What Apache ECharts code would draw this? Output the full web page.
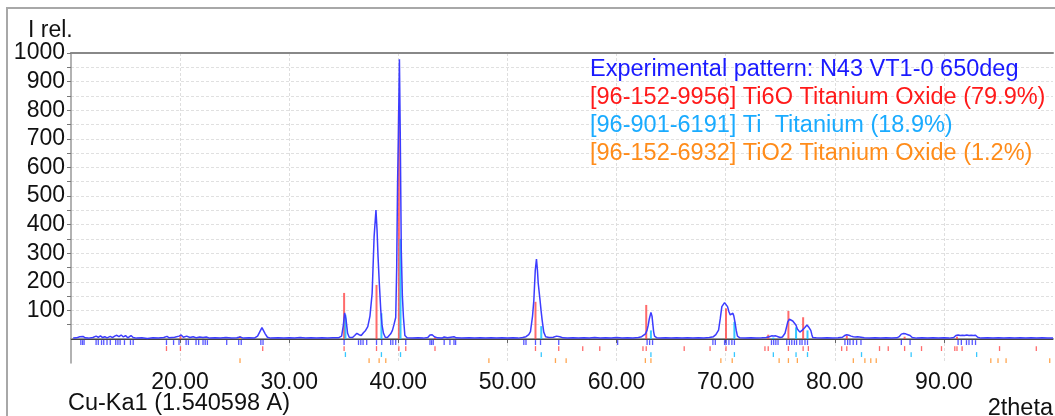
<!DOCTYPE html>
<html>
<head>
<meta charset="utf-8">
<title>XRD pattern N43 VT1-0 650deg</title>
<script src="https://cdn.jsdelivr.net/npm/echarts@6/dist/echarts.min.js"></script>
<style>
  html, body { margin: 0; padding: 0; background: #fff; }
  #chart { width: 1055px; height: 416px; }
</style>
</head>
<body>
<div id="chart"></div>
<script>
// experimental pattern [2theta, I rel.]
const expPattern = [
  [10.2,3],[10.5,4],[10.8,8],[10.95,5],[11.1,9],[11.3,4],[11.6,3],[12.0,5],[12.3,10],[12.5,6],
  [12.7,11],[12.9,5],[13.1,8],[13.3,4],[13.6,9],[13.8,5],[14.0,10],[14.2,13],[14.4,8],[14.6,14],
  [14.8,7],[15.0,12],[15.2,4],[15.5,12],[15.7,5],[16.0,3],[16.5,4],[17.0,2],[17.5,4],[18.0,3],
  [18.5,5],[18.8,9],[19.0,4],[19.5,6],[19.9,10],[20.1,14],[20.3,6],[20.6,10],[20.9,5],[21.2,8],
  [21.5,4],[21.8,7],[22.1,5],[22.4,7],[22.7,3],[23.2,4],[23.7,3],[24.2,5],[24.7,3],[25.2,4],
  [25.5,7],[25.8,3],[26.3,4],[26.8,3],[27.1,10],[27.3,25],[27.5,40],[27.65,35],[27.8,18],[28.0,6],
  [28.3,3],[29.0,4],[29.5,3],[30.0,4],[30.5,3],[31.0,5],[31.5,3],[32.0,4],[32.5,3],[33.0,4],
  [33.5,3],[34.0,4],[34.5,4],[34.8,10],[34.95,45],[35.08,91],[35.2,70],[35.35,20],[35.5,6],[35.8,5],
  [36.0,12],[36.2,20],[36.4,15],[36.6,12],[36.8,22],[37.0,30],[37.2,43],[37.4,80],[37.6,160],[37.78,358],
  [37.95,451],[38.05,380],[38.14,288],[38.25,200],[38.39,101],[38.5,50],[38.64,20],[38.8,6],[39.0,5],[39.15,10],
  [39.3,18],[39.46,30],[39.6,50],[39.76,75],[39.85,250],[39.93,545],[40.0,700],[40.1,978],[40.18,700],[40.27,311],
  [40.37,150],[40.47,75],[40.6,12],[40.8,4],[41.3,3],[41.8,4],[42.3,3],[42.7,5],[42.9,14],[43.1,15],
  [43.3,8],[43.6,4],[44.0,3],[44.2,7],[44.5,4],[44.8,6],[45.1,8],[45.3,4],[45.8,3],[46.5,4],
  [47.0,3],[47.5,4],[48.0,3],[48.5,4],[49.0,3],[49.5,4],[50.0,3],[50.5,4],[51.0,3],[51.4,5],
  [51.7,8],[51.95,15],[52.11,26],[52.3,80],[52.42,136],[52.55,240],[52.66,279],[52.75,240],[52.82,195],[52.97,142],
  [53.08,100],[53.18,66],[53.33,24],[53.5,8],[53.8,5],[54.2,6],[54.5,10],[54.8,8],[55.1,4],[55.5,3],
  [56.0,4],[56.5,3],[57.0,4],[57.5,3],[58.0,5],[58.5,3],[59.0,4],[59.5,3],[60.0,5],[60.5,3],
  [61.0,4],[61.5,3],[62.0,5],[62.3,8],[62.48,10],[62.65,18],[62.79,30],[62.9,48],[63.0,70],[63.15,93],
  [63.25,80],[63.33,50],[63.4,25],[63.48,10],[63.7,4],[64.0,3],[64.5,4],[65.0,3],[65.5,4],[66.0,3],
  [66.5,4],[67.0,3],[67.5,4],[68.0,3],[68.5,5],[68.88,8],[69.1,15],[69.35,31],[69.5,70],[69.65,113],
  [69.9,127],[70.05,124],[70.17,113],[70.3,95],[70.42,84],[70.55,88],[70.66,90],[70.75,80],[70.87,55],[70.97,30],
  [71.08,10],[71.3,4],[71.8,3],[72.3,4],[72.8,3],[73.3,4],[73.7,5],[74.0,8],[74.2,11],[74.4,10],
  [74.6,11],[74.8,8],[75.0,5],[75.2,7],[75.44,20],[75.6,45],[75.69,60],[75.84,69],[76.0,66],[76.15,63],
  [76.33,60],[76.45,48],[76.57,35],[76.8,24],[77.0,30],[77.26,40],[77.45,49],[77.6,42],[77.8,30],[77.9,15],
  [77.98,5],[78.3,4],[78.8,3],[79.3,4],[79.8,3],[80.3,4],[80.7,6],[80.9,12],[81.1,15],[81.3,13],
  [81.5,10],[81.7,8],[81.9,7],[82.1,8],[82.4,6],[82.7,4],[83.2,3],[83.7,4],[84.2,3],[84.7,4],
  [85.2,3],[85.7,4],[85.9,8],[86.1,17],[86.3,19],[86.5,18],[86.7,15],[86.9,12],[87.1,5],[87.5,3],
  [88.0,4],[88.5,3],[89.0,4],[89.5,3],[90.0,4],[90.5,3],[90.9,5],[91.1,12],[91.3,14],[91.5,12],
  [91.7,13],[91.9,12],[92.1,14],[92.3,12],[92.5,13],[92.7,12],[92.9,13],[93.1,6],[93.4,3],[94.0,4],
  [94.5,3],[95.0,4],[95.5,3],[96.0,4],[96.5,3],[97.0,4],[97.5,3],[98.0,4],[98.5,3],[99.0,4],
  [99.5,3],[100.0,3]
];

// peaks found in the experimental pattern (blue marks)
const expPeaks = [10.9, 11.06, 11.2, 12.3, 12.5, 12.8, 13.0, 13.3, 13.6, 14.1, 14.3, 14.5, 14.9, 15.45, 15.7,
  18.75, 19.4, 19.9, 20.55, 20.76, 21.46, 21.7, 22.1, 22.3, 22.5, 24.27, 25.37, 25.6, 27.4, 27.6,
  35.03, 36.35, 36.56, 36.77, 37.1, 38.0, 38.48, 39.3, 39.5, 39.76, 40.68, 42.9, 43.05, 43.2, 44.2,
  44.73, 45.1, 45.25, 51.5, 51.7, 52.57, 53.03, 54.7, 60.1, 62.8, 63.03, 63.3, 68.83, 69.05, 69.9,
  70.05, 70.3, 70.57, 70.8, 74.2, 74.4, 74.6, 74.8, 75.6, 75.84, 76.06, 76.3, 76.5, 76.8, 77.0,
  77.27, 77.5, 80.93, 81.18, 81.39, 81.69, 82.0, 82.4, 86.1, 86.9, 91.3, 91.6, 92.07, 92.3, 92.6, 92.9];

// [96-152-9956] Ti6O
const ti6oPos = [18.75, 20.03, 27.57, 35.03, 38.0, 40.05, 40.68, 43.36, 52.57, 54.7, 56.9, 58.46, 62.42, 62.72,
  66.2, 68.57, 70.03, 73.6, 73.9, 75.75, 77.1, 77.58, 80.63, 81.1, 84.1, 84.9, 86.4, 87.95, 89.78,
  91.0, 91.2, 91.67, 95.1, 98.47];
const ti6oInt = [0, 10, 0, 161, 189, 800, 0, 5, 130, 0, 0, 0, 0, 119,
  0, 0, 107, 0, 15, 98, 76, 0, 0, 12, 0, 0, 8, 0, 0,
  0, 8, 0, 0, 0];

// [96-901-6191] Ti
const tiPos = [35.15, 38.45, 40.2, 53.1, 63.15, 70.8, 74.37, 76.45, 77.5, 82.45, 87.0, 93.0];
const tiInt = [85, 90, 350, 45, 30, 60, 5, 41, 30, 0, 0, 0];

// [96-152-6932] TiO2
const tio2Pos = [25.49, 37.32, 38.24, 38.85, 48.3, 54.4, 55.38, 62.64, 63.15, 69.56, 70.6, 74.9, 75.75,
  76.57, 81.7, 82.76, 83.3, 83.8, 94.3, 94.96, 95.7, 99.7];
const tio2Int = [10, 0, 0, 0, 0, 0, 0, 0, 0, 0, 0, 0, 0,
  0, 0, 0, 0, 0, 0, 0, 0, 0];

const xTickLabels = [20, 30, 40, 50, 60, 70, 80, 90];
const yTickLabels = [100, 200, 300, 400, 500, 600, 700, 800, 900, 1000];
const yTicks = [50, 100, 150, 200, 250, 300, 350, 400, 450, 500, 550, 600, 650, 700, 750, 800, 850, 900, 950, 1000];

const legendLabels = [
  'Experimental pattern: N43 VT1-0 650deg',
  '[96-152-9956] Ti6O Titanium Oxide (79.9%)',
  '[96-901-6191] Ti  Titanium (18.9%)',
  '[96-152-6932] TiO2 Titanium Oxide (1.2%)'
];
const legendColors = ['#1a1aff', '#ff1a1a', '#1aabff', '#ff8c1a'];

const FONT = "'Liberation Sans', Arial, sans-serif";
// marker rows below the zero line (in intensity units)
const ROW_EXP = [-4, -21];
const ROW_TI6O = [-25, -42];
const ROW_TI = [-46, -63];
const ROW_TIO2 = [-67, -84];

const chart = echarts.init(document.getElementById('chart'));

function renderStick(params, api) {
  const p0 = api.coord([api.value(0), api.value(1)]);
  const p1 = api.coord([api.value(0), api.value(2)]);
  return {
    type: 'line',
    shape: { x1: p0[0], y1: p0[1], x2: p1[0], y2: p1[1] },
    style: { stroke: api.visual('color'), lineWidth: api.value(3) }
  };
}

// markers row + optional intensity stick above baseline
function stickData(pos, ints, row) {
  const out = [];
  pos.forEach((p, i) => {
    out.push([p, row[0], row[1], 1.3]);
    if (ints && ints[i] > 0) out.push([p, 0, ints[i], 2]);
  });
  return out;
}

function stickSeries(name, data, color, z) {
  return {
    name: name,
    type: 'custom',
    renderItem: renderStick,
    encode: { x: 0, y: [1, 2] },
    itemStyle: { color: color },
    data: data,
    silent: true,
    animation: false,
    z: z
  };
}

const option = {
  animation: false,
  textStyle: { fontFamily: FONT },
  grid: { left: 71, right: 2, top: 53, bottom: 53 },
  xAxis: [{
    type: 'value',
    min: 10,
    max: 100,
    axisLine: { lineStyle: { color: '#999', width: 2 } },
    axisTick: { customValues: xTickLabels, length: 4, lineStyle: { color: '#666' } },
    axisLabel: {
      customValues: xTickLabels,
      formatter: v => v.toFixed(2),
      color: '#111',
      fontSize: 23,
      fontFamily: FONT,
      margin: 8
    },
    splitLine: { show: true, lineStyle: { color: '#dedede', type: [3, 2] } }
  }, {
    type: 'value',
    position: 'top',
    min: 10,
    max: 100,
    axisLine: { show: true, lineStyle: { color: '#888', width: 2 } },
    axisTick: { show: false },
    axisLabel: { show: false },
    splitLine: { show: false }
  }],
  yAxis: {
    type: 'value',
    min: -84,
    max: 1000,
    axisLine: { show: true, lineStyle: { color: '#999', width: 1.5 } },
    axisTick: { show: true, customValues: yTicks, length: 4, lineStyle: { color: '#777' } },
    axisLabel: {
      customValues: yTickLabels,
      formatter: v => String(v),
      color: '#111',
      fontSize: 23,
      fontFamily: FONT,
      margin: 6
    },
    splitLine: { show: true, lineStyle: { color: '#e0e0e0', type: [3, 2] } }
  },
  graphic: [
    { type: 'rect', shape: { x: 7, y: 8, width: 1100, height: 500 },
      style: { fill: 'none', stroke: '#a8a8a8', lineWidth: 2 }, silent: true },
    { type: 'text', left: 28, top: 19,
      style: { text: 'I rel.', font: '23px ' + FONT, fill: '#111' } },
    { type: 'text', left: 68, top: 392,
      style: { text: 'Cu-Ka1 (1.540598 A)', font: '23.5px ' + FONT, fill: '#111' } },
    { type: 'text', right: 2, top: 397,
      style: { text: '2theta', font: '23.5px ' + FONT, fill: '#111' } }
  ].concat(legendLabels.map((t, i) => ({
    type: 'text',
    left: 590,
    top: 58 + i * 27.7,
    z: 100,
    style: { text: t, font: '23.5px ' + FONT, fill: legendColors[i] }
  }))),
  series: [
    stickSeries('[96-152-9956] Ti6O', stickData(ti6oPos, ti6oInt, ROW_TI6O), 'rgba(255,70,70,0.8)', 2),
    stickSeries('[96-901-6191] Ti', stickData(tiPos, tiInt, ROW_TI), 'rgba(20,190,255,0.85)', 3),
    stickSeries('[96-152-6932] TiO2', stickData(tio2Pos, tio2Int, ROW_TIO2), 'rgba(255,150,50,0.85)', 3),
    stickSeries('peaks', stickData(expPeaks, null, ROW_EXP), 'rgba(60,60,255,0.85)', 3),
    {
      name: 'Experimental pattern',
      type: 'line',
      data: expPattern,
      showSymbol: false,
      symbol: 'none',
      lineStyle: { color: '#3c3cff', width: 1.5 },
      z: 5,
      markLine: {
        silent: true,
        symbol: 'none',
        label: { show: false },
        lineStyle: { color: '#444', width: 1, type: 'solid' },
        data: [{ yAxis: 0 }]
      }
    }
  ]
};

chart.setOption(option);
</script>
</body>
</html>
